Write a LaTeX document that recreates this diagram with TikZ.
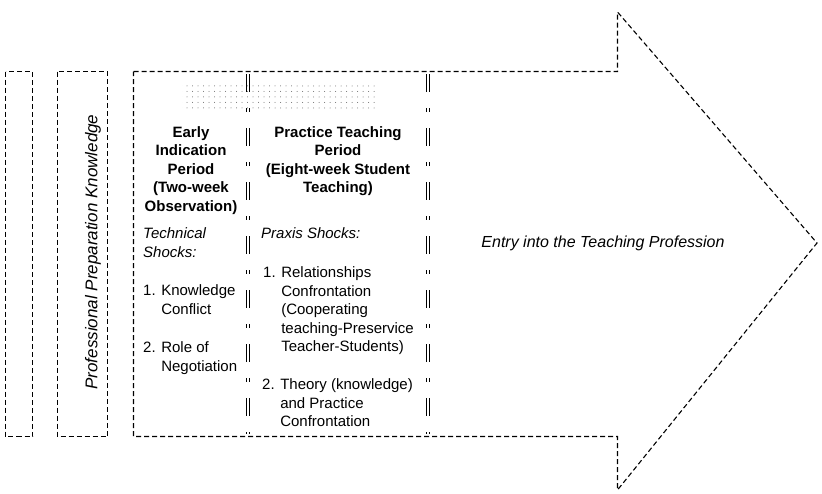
\documentclass[tikz,border=0pt]{standalone}
\usepackage{fontspec}
\setmainfont{Liberation Sans}
\usetikzlibrary{positioning, patterns.meta}

\tikzset{
    dashbox/.style={draw, black, line width=1.1pt, dash pattern=on 5pt off 3pt},
    divline/.style={draw, black, line width=0.8pt, dash pattern=on 18pt off 16pt on 4pt off 16pt},
    txt/.style={inner sep=0pt, font=\fontsize{15}{18.6}\selectfont},
}

\begin{document}
\begin{tikzpicture}[x=1pt, y=-1pt]
\useasboundingbox (0,0) rectangle (822,493);

% Side boxes
\draw[dashbox] (5.5,71.5) rectangle (32.5,436.5);
\draw[dashbox] (57.5,71.5) rectangle (107.5,436.5);
\node[txt, rotate=90, font=\fontsize{17}{20}\selectfont\itshape] (profknow) at (93,252) {Professional Preparation Knowledge};

% Big arrow
\draw[dashbox] (133.5,71.5) -- (617.5,71.5) -- (617.5,12) -- (817,243) -- (617.5,490) -- (617.5,436.5) -- (133.5,436.5) -- cycle;

% Dividers (double dashed)
\foreach \x in {248,428} {
    \draw[divline] (\x-1.2,74) -- (\x-1.2,434);
    \draw[divline] (\x+1.2,74) -- (\x+1.2,434);
}

% Dotted strip
\fill[pattern={Dots[distance=5.5pt, radius=0.5pt]}, pattern color=black!60] (182,85) rectangle (375,109);

% Early indication period
\node[txt, anchor=north, align=center, font=\fontsize{15}{18.6}\selectfont\bfseries] (earlyhead) at (191,126)
    {Early\\Indication\\Period\\(Two-week\\Observation)};
\node[txt, anchor=north west, align=left, font=\fontsize{15}{18.6}\selectfont\itshape] (techshocks) at (143,227.5)
    {Technical\\Shocks:};
\node[txt, anchor=north west, align=left] (knowconf) at (143,284.5)
    {1. Knowledge\\\phantom{1. }Conflict};
\node[txt, anchor=north west, align=left] (rolenego) at (143,341.5)
    {2. Role of\\\phantom{2. }Negotiation};

% Practice teaching period
\node[txt, anchor=north, align=center, font=\fontsize{15}{18.6}\selectfont\bfseries] (practhead) at (338,126)
    {Practice Teaching\\Period\\(Eight-week Student\\Teaching)};
\node[txt, anchor=north west, align=left, font=\fontsize{15}{18.6}\selectfont\itshape] (praxshocks) at (261,227.5)
    {Praxis Shocks:};
\node[txt, anchor=north west, align=left] (relconf) at (263,266.5)
    {1. Relationships\\\phantom{1. }Confrontation\\\phantom{1. }(Cooperating\\\phantom{1. }teaching-Preservice\\\phantom{1. }Teacher-Students)};
\node[txt, anchor=north west, align=left] (theoconf) at (262,378.5)
    {2. Theory (knowledge)\\\phantom{2. }and Practice\\\phantom{2. }Confrontation};

% Entry
\node[txt, font=\fontsize{16}{19}\selectfont\itshape] (entry) at (603,243) {Entry into the Teaching Profession};
\end{tikzpicture}
\end{document}
